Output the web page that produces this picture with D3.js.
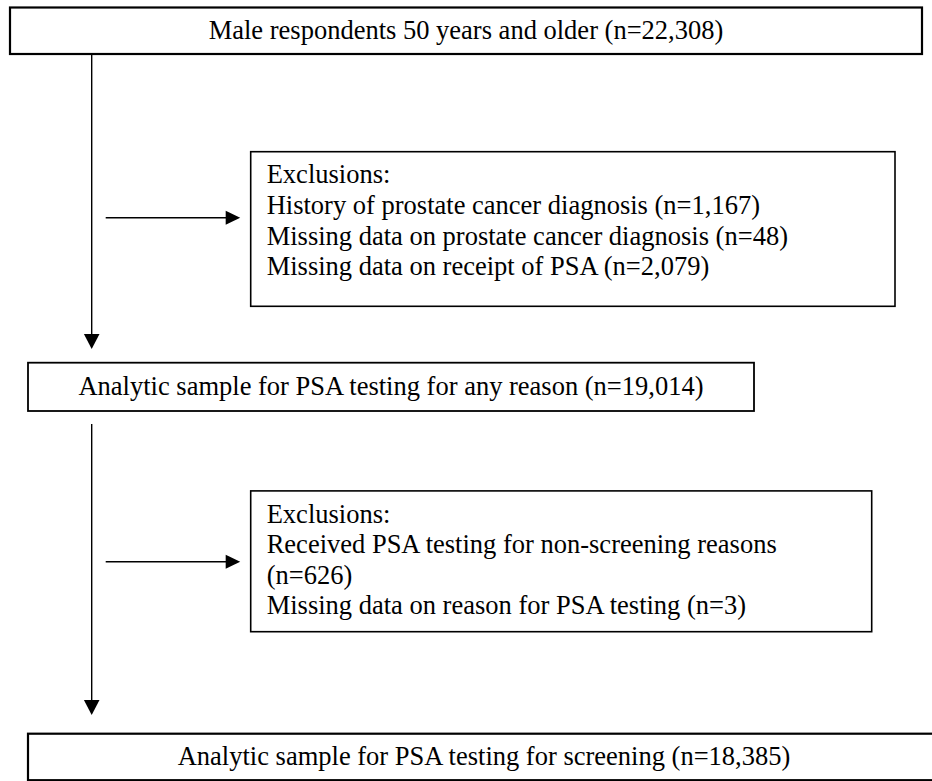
<!DOCTYPE html>
<html>
<head>
<meta charset="utf-8">
<script src="https://cdn.jsdelivr.net/npm/d3@7"></script>
<style>
  html, body { margin: 0; padding: 0; background: #fff; }
  svg { display: block; }
  .box { fill: #fff; stroke: #000; }
  .flow-text { font-family: "Liberation Serif", "Times New Roman", serif; font-size: 26.5px; fill: #000; }
  .link { stroke: #000; stroke-width: 1.4; fill: none; }
  .head { fill: #000; }
</style>
</head>
<body>
<svg id="chart" width="932" height="781"></svg>
<script>
// flow stages (main column)
var stageLabels = [
    'Male respondents 50 years and older',
    'Analytic sample for PSA testing for any reason',
    'Analytic sample for PSA testing for screening'
];
var stageCounts = [22308, 19014, 18385];

// exclusions between stage 1 and 2
var exclusionReasons1 = [
    'History of prostate cancer diagnosis',
    'Missing data on prostate cancer diagnosis',
    'Missing data on receipt of PSA'
];
var exclusionCounts1 = [1167, 48, 2079];

// exclusions between stage 2 and 3
var exclusionReasons2 = [
    'Received PSA testing for non-screening reasons',
    'Missing data on reason for PSA testing'
];
var exclusionCounts2 = [626, 3];

var fmt = d3.format(',');
var svg = d3.select('#chart');

// layout of the boxes (pixels)
var stageBoxes = [
    {x: 10, y: 7.5, w: 912, h: 46.5, sw: 2.2},
    {x: 28, y: 362.7, w: 726, h: 48.3, sw: 1.8},
    {x: 28, y: 733.7, w: 912, h: 46.5, sw: 2.2}
];
var exclusionBoxes = [
    {x: 250.7, y: 151.7, w: 644.3, h: 154.6},
    {x: 250.7, y: 490.9, w: 621, h: 140.8}
];
var spineX = 91.7;
var lineHeight = 30.6;
var pad = 16;

function label(name, n) {
    return name + ' (n=' + fmt(n) + ')';
}

// main stage boxes
var stages = svg.selectAll('.stage')
    .data(stageLabels.map(function(d, i) {
        return {text: label(d, stageCounts[i]), box: stageBoxes[i]};
    }))
  .enter()
  .append('g')
    .attr('class', 'stage');

stages.append('rect')
    .attr('class', 'box')
    .attr('x', function(d) { return d.box.x; })
    .attr('y', function(d) { return d.box.y; })
    .attr('width', function(d) { return d.box.w; })
    .attr('height', function(d) { return d.box.h; })
    .style('stroke-width', function(d) { return d.box.sw; });

stages.append('text')
    .attr('class', 'flow-text')
    .attr('x', function(d) { return d.box.x + d.box.w / 2; })
    .attr('y', function(d) { return d.box.y + d.box.h / 2 + 8; })
    .attr('text-anchor', 'middle')
    .text(function(d) { return d.text; });

// wrap words to the box width, measuring with a hidden text node
var probe = svg.append('text').attr('class', 'flow-text').style('visibility', 'hidden');
function wrap(str, maxW) {
    var words = str.split(' ');
    var lines = [];
    var cur = '';
    words.forEach(function(w) {
        var trial = cur ? cur + ' ' + w : w;
        probe.text(trial);
        if (cur && probe.node().getComputedTextLength() > maxW) {
            lines.push(cur);
            cur = w;
        } else {
            cur = trial;
        }
    });
    if (cur) lines.push(cur);
    return lines;
}

function drawExclusions(reasons, counts, box) {
    var g = svg.append('g').attr('class', 'exclusion');
    g.append('rect')
        .attr('class', 'box')
        .attr('x', box.x)
        .attr('y', box.y)
        .attr('width', box.w)
        .attr('height', box.h)
        .style('stroke-width', 1.6);

    var lines = ['Exclusions:'];
    reasons.forEach(function(r, i) {
        lines = lines.concat(wrap(label(r, counts[i]), box.w - 2 * pad));
    });

    g.selectAll('text')
        .data(lines)
      .enter()
      .append('text')
        .attr('class', 'flow-text')
        .attr('x', box.x + pad)
        .attr('y', function(d, i) { return box.y + 31.6 + i * lineHeight; })
        .text(function(d) { return d; });
}

drawExclusions(exclusionReasons1, exclusionCounts1, exclusionBoxes[0]);
drawExclusions(exclusionReasons2, exclusionCounts2, exclusionBoxes[1]);
probe.remove();

// connectors: vertical spine segments and horizontal side arrows
var vArrows = [
    {x1: spineX, y1: stageBoxes[0].y + stageBoxes[0].h, x2: spineX, y2: 349},
    {x1: spineX, y1: 424, x2: spineX, y2: 715}
];
var hArrows = exclusionBoxes.map(function(b) {
    var y = b.y + (b === exclusionBoxes[0] ? 66 : 70.8);
    return {x1: 105.7, y1: y, x2: b.x - 10.5, y2: y};
});

function drawArrow(a, len, half) {
    var dx = a.x2 - a.x1, dy = a.y2 - a.y1;
    var L = Math.sqrt(dx * dx + dy * dy);
    var ux = dx / L, uy = dy / L;
    var bx = a.x2 - ux * len, by = a.y2 - uy * len;
    svg.append('line')
        .attr('class', 'link')
        .attr('x1', a.x1).attr('y1', a.y1)
        .attr('x2', bx + ux).attr('y2', by + uy);
    svg.append('path')
        .attr('class', 'head')
        .attr('d', d3.line()([
            [a.x2, a.y2],
            [bx - uy * half, by + ux * half],
            [bx + uy * half, by - ux * half]
        ]) + 'Z');
}

vArrows.forEach(function(a) { drawArrow(a, 15, 7.8); });
hArrows.forEach(function(a) { drawArrow(a, 14.5, 7); });
</script>
</body>
</html>
